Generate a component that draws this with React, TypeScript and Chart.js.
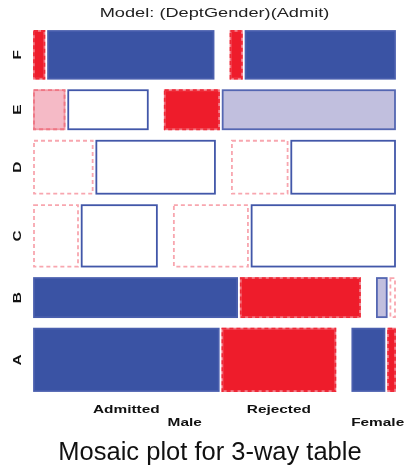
import React, { useEffect, useRef } from 'react';
import { Chart, registerables } from 'chart.js';

Chart.register(...registerables);

// UC Berkeley admissions, Dept x Gender x Admit
const depts = ['A', 'B', 'C', 'D', 'E', 'F'];
const genders = ['Male', 'Female'];
const admitLevels = ['Admitted', 'Rejected'];
const maleAdmitted = [512, 353, 120, 138, 53, 22];
const maleRejected = [313, 207, 205, 279, 138, 351];
const femaleAdmitted = [89, 17, 202, 131, 94, 24];
const femaleRejected = [19, 8, 391, 244, 299, 317];

const modelTitle = 'Model: (DeptGender)(Admit)';
const plotCaption = 'Mosaic plot for 3-way table';

// spacing between tiles, as fractions of the unit square
const GAP_GENDER = 17 / 361;
const GAP_ADMIT = 3.7 / 361;
const GAP_ROW = 11.5 / 360;

const FONT = '"Liberation Sans", Arial, Helvetica, sans-serif';
const STRETCH = 1.4;

type Cell = {
  x0: number; x1: number; y0: number; y1: number;
  resid: number; dept: number; gender: number; admit: number;
};

function buildCells(): Cell[] {
  const counts = depts.map((_, d) => [
    [maleAdmitted[d], maleRejected[d]],
    [femaleAdmitted[d], femaleRejected[d]],
  ]);
  const N = counts.flat(2).reduce((s, v) => s + v, 0);
  const admitTot = [0, 1].map(k =>
    counts.reduce((s, dg) => s + dg[0][k] + dg[1][k], 0));
  const rowTot = counts.map(dg => dg[0][0] + dg[0][1] + dg[1][0] + dg[1][1]);
  const unitY = (1 - GAP_ROW * (depts.length - 1)) / N;
  const cells: Cell[] = [];
  let yCur = 0;
  counts.forEach((dg, d) => {
    const h = rowTot[d] * unitY;
    const unitX = (1 - GAP_GENDER - 2 * GAP_ADMIT) / rowTot[d];
    let xCur = 0;
    dg.forEach((pair, g) => {
      const nDG = pair[0] + pair[1];
      pair.forEach((obs, k) => {
        const w = obs * unitX;
        const exp = (nDG * admitTot[k]) / N;
        cells.push({
          x0: xCur, x1: xCur + w, y0: yCur, y1: yCur + h,
          resid: (obs - exp) / Math.sqrt(exp), dept: d, gender: g, admit: k,
        });
        xCur += w + (k === 0 ? GAP_ADMIT : 0);
      });
      xCur += GAP_GENDER;
    });
    yCur += h + GAP_ROW;
  });
  return cells;
}

// Friendly-style residual shading: blue solid for positive, red dashed for negative
function shade(r: number) {
  const a = Math.abs(r);
  const level = a > 4 ? 2 : a > 2 ? 1 : 0;
  if (r >= 0) {
    return {
      fill: ['#ffffff', '#c1bfde', '#3a53a4'][level],
      under: null as string | null,
      stroke: ['#4257a9', '#5466b2', '#4a5fae'][level],
      dash: [] as number[],
    };
  }
  return {
    fill: ['#ffffff', '#f5bac6', '#ee1c2b'][level],
    under: [null, '#f39aa6', '#f37480'][level],
    stroke: ['#f8a6af', '#ee7684', '#ee2a38'][level],
    dash: [4, 3],
  };
}

function stretchedText(
  ctx: CanvasRenderingContext2D, text: string, px: number, py: number,
  font: string, sx: number, color: string, rotate = false,
  baseline: CanvasTextBaseline = 'alphabetic',
) {
  ctx.save();
  ctx.translate(px, py);
  if (rotate) ctx.rotate(-Math.PI / 2);
  ctx.scale(sx, 1);
  ctx.font = font;
  ctx.fillStyle = color;
  ctx.textAlign = 'center';
  ctx.textBaseline = baseline;
  ctx.fillText(text, 0, 0);
  ctx.restore();
}

const mosaicPlugin = {
  id: 'mosaic',
  afterDatasetsDraw(chart: Chart) {
    const { ctx } = chart;
    const xs = chart.scales.x;
    const ys = chart.scales.y;
    const cells = buildCells();

    ctx.save();
    cells.forEach(c => {
      const left = xs.getPixelForValue(c.x0);
      const right = xs.getPixelForValue(c.x1);
      const top = ys.getPixelForValue(c.y1);
      const bottom = ys.getPixelForValue(c.y0);
      const s = shade(c.resid);
      ctx.fillStyle = s.fill;
      ctx.fillRect(left, top, right - left, bottom - top);
      ctx.lineWidth = 1.8;
      if (s.under) {
        ctx.setLineDash([]);
        ctx.strokeStyle = s.under;
        ctx.strokeRect(left, top, right - left, bottom - top);
      }
      ctx.setLineDash(s.dash);
      ctx.strokeStyle = s.stroke;
      ctx.strokeRect(left, top, right - left, bottom - top);
    });
    ctx.setLineDash([]);
    ctx.restore();

    // title of the fitted model
    const midX = (chart.chartArea.left + chart.chartArea.right) / 2;
    stretchedText(ctx, modelTitle, midX, 16.5, `13px ${FONT}`, STRETCH, '#222');

    // department labels on the left
    depts.forEach((name, d) => {
      const rowCells = cells.filter(c => c.dept === d);
      const yMid = ys.getPixelForValue((rowCells[0].y0 + rowCells[0].y1) / 2);
      stretchedText(ctx, name, 17.5, yMid, `bold 11px ${FONT}`, STRETCH, '#111', true, 'middle');
    });

    // admit and gender labels under the bottom row
    const bottomRow = cells.filter(c => c.dept === 0);
    admitLevels.forEach((name, k) => {
      const c = bottomRow.find(b => b.gender === 0 && b.admit === k)!;
      const cx = xs.getPixelForValue((c.x0 + c.x1) / 2);
      stretchedText(ctx, name, cx, 413.3, `bold 11px ${FONT}`, STRETCH, '#111');
    });
    genders.forEach((name, g) => {
      const gc = bottomRow.filter(b => b.gender === g);
      const cx = xs.getPixelForValue((gc[0].x0 + gc[1].x1) / 2);
      stretchedText(ctx, name, cx + (g === 1 ? 4 : 0), 426.3, `bold 11px ${FONT}`, STRETCH, '#111');
    });

    // caption
    stretchedText(ctx, plotCaption, 210, 460, `25.5px ${FONT}`, 1, '#111');
  },
};

export default function App() {
  const canvasRef = useRef<HTMLCanvasElement | null>(null);

  useEffect(() => {
    if (!canvasRef.current) return;
    const chart = new Chart(canvasRef.current, {
      type: 'scatter',
      data: { datasets: [{ data: [], showLine: false }] },
      options: {
        animation: false,
        responsive: true,
        maintainAspectRatio: false,
        layout: { padding: { left: 34, top: 31, right: 12, bottom: 78 } },
        plugins: { legend: { display: false }, tooltip: { enabled: false } },
        scales: {
          x: { type: 'linear', min: 0, max: 1, display: false },
          y: { type: 'linear', min: 0, max: 1, display: false },
        },
      },
      plugins: [mosaicPlugin],
    });
    return () => chart.destroy();
  }, []);

  return (
    <div style={{ position: 'fixed', left: 0, top: 0, width: 407, height: 469, background: '#fff' }}>
      <canvas ref={canvasRef} />
    </div>
  );
}
